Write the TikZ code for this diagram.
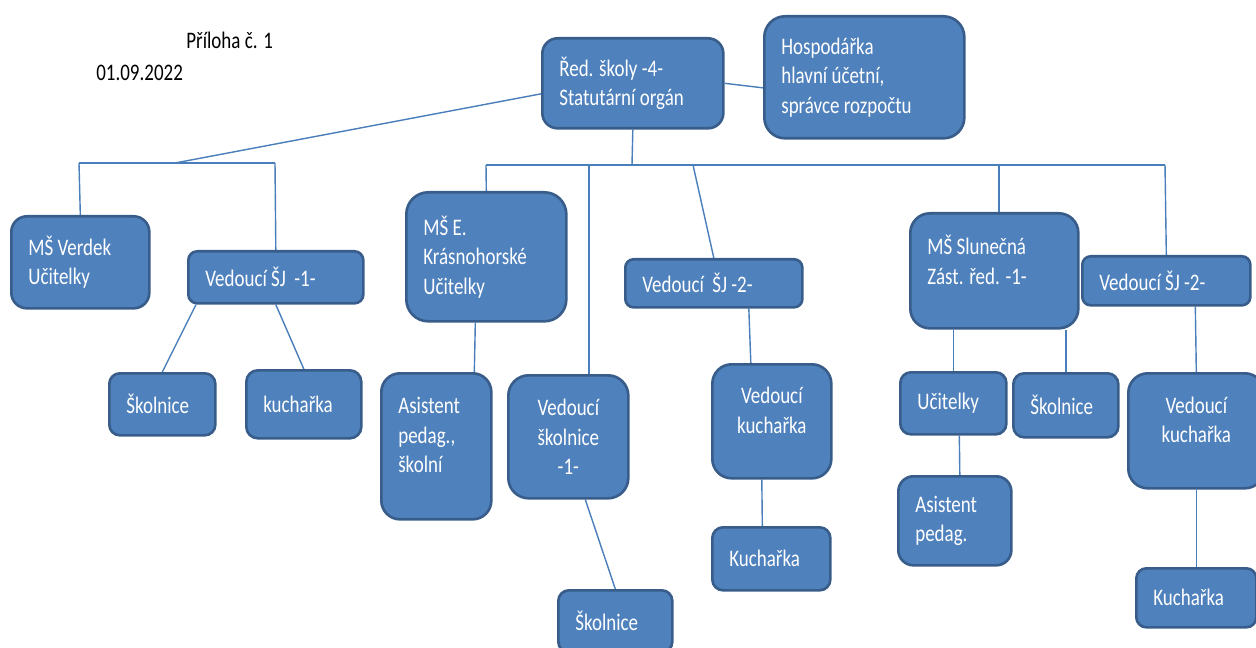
\documentclass[tikz,border=0pt]{standalone}
\usepackage{fontspec}
\setmainfont[FakeStretch=0.8]{Carlito}
\usetikzlibrary{calc,backgrounds}
\definecolor{boxfill}{HTML}{4F81BD}
\definecolor{boxline}{HTML}{385D8A}
\definecolor{wire}{HTML}{4A7EBB}
\tikzset{
  box/.style 2 args={draw=boxline, fill=boxfill, line width=1.5pt, text=white,
    anchor=north west, align=flush left, inner xsep=0.34cm, inner ysep=0pt,
    minimum width=#1*0.02cm, minimum height=#2*0.02cm, text width=(#1-34)*0.02cm,
    rounded corners={min(#1,#2)*0.17*0.02cm},
    execute at begin node={\spaceskip=0pt\xspaceskip=0pt},
    font=\fontsize{13.5}{16.8}\selectfont},
  mid/.style={align=flush center},
  note/.style={anchor=base west, inner sep=0pt, font=\fontsize{13.5}{16.8}\selectfont},
  link/.style={draw=wire, line width=0.8pt}
}
\begin{document}
\begin{tikzpicture}[x=0.02cm, y=-0.02cm]
\useasboundingbox (0,0) rectangle (1256,648);

\node[note] (annex) at (186,49) {Příloha č. 1};
\node[note] (date) at (96,81) {01.09.2022};

\node[box={181}{90}] (root) at (541,37) {Řed. školy -4-\\Statutární orgán};
\node[box={200}{122}] (hosp) at (763,15) {Hospodářka\\hlavní účetní,\\správce rozpočtu};

\node[box={138}{92}] (verdek) at (10,215) {MŠ Verdek\\Učitelky};
\node[box={175}{52}] (ved1) at (187,250) {Vedoucí ŠJ~ -1-};
\node[box={106}{62}] (skol1) at (108,372) {Školnice};
\node[box={115}{68}] (kuch1) at (245,369) {kuchařka};

\node[box={160}{129}] (krasno) at (405,191) {MŠ E.\\Krásnohorské\\Učitelky};
\node[box={110}{146}] (asist1) at (380,372) {Asistent\\pedag.,\\školní\\[-4pt]\mbox{}};
\node[box={120}{123}, mid] (vedsk) at (507,374) {Vedoucí\\školnice\\-1-};
\node[box={114}{62}] (skol2) at (557,589) {Školnice};

\node[box={177}{48}] (vsj2) at (624,258) {Vedoucí~ ŠJ -2-};
\node[box={119}{114}, mid] (vkuch) at (711,363) {Vedoucí\\kuchařka\\[-4pt]\mbox{}};
\node[box={118}{63}] (kuch2) at (711,526) {Kuchařka};

\node[box={168}{115}] (slun) at (909,212) {MŠ Slunečná\\Zást. řed. -1-\\[-4pt]\mbox{}};
\node[box={106}{62}] (ucit) at (899,371) {Učitelky};
\node[box={105}{64}] (skol3) at (1012,372) {Školnice};
\node[box={113}{89}] (asist2) at (897,475) {Asistent\\pedag.};

\node[box={168}{49}] (vsj2r) at (1081,255) {Vedoucí ŠJ -2-};
\node[box={136}{115}, mid] (vkuchr) at (1127,372) {Vedoucí\\kuchařka\\[-4pt]\mbox{}};
\node[box={120}{59}] (kuchr) at (1135,567) {Kuchařka};

\coordinate (lbar) at (175,163);
\coordinate (lbarw) at (79,163);
\coordinate (lbare) at (275,163);
\coordinate (mbar) at (632,165);
\coordinate (mbarw) at (486,165);
\coordinate (mbare) at (1165,165);
\coordinate (tap1) at (589,165);
\coordinate (tap2) at (693,165);
\coordinate (tap3) at (999,165);

\begin{scope}[on background layer]
\begin{scope}[link]
\draw ([yshift=-6pt]root.west) -- (lbar);
\draw (lbarw) -- (lbare);
\draw (lbarw) -- (verdek.north);
\draw (lbare) -- (ved1.north);
\draw (root.east) -- ([yshift=-6pt]hosp.west);
\draw (root.south) -- (mbar);
\draw (mbarw) -- (mbare);
\draw (mbarw) -- (krasno.north);
\draw (tap1) -- (vedsk.north -| tap1);
\draw (tap2) -- (vsj2.north);
\draw (tap3) -- (slun.north -| tap3);
\draw (mbare) -- (vsj2r.north);
\draw ($(ved1.south west)+(9,0)$) -- (skol1.north);
\draw (ved1.south) -- (kuch1.north);
\draw ($(krasno.south)+(-11,0)$) -- ($(asist1.north)+(38,0)$);
\draw ($(vedsk.south)+(17,0)$) -- (skol2.north);
\draw ($(vsj2.south)+(35,0)$) -- ($(vkuch.north)+(-21,0)$);
\draw ($(vkuch.south)+(-10,0)$) -- ($(kuch2.north)+(-9,0)$);
\draw (slun.south -| ucit.north) -- (ucit.north);
\draw (slun.south -| skol3.north) -- (skol3.north);
\draw ($(ucit.south)+(6,0)$) -- ($(asist2.north)+(5,0)$);
\draw ($(vsj2r.south)+(29,0)$) -- (vkuchr.north);
\draw (vkuchr.south) -- (kuchr.north);
\end{scope}
\end{scope}
\end{tikzpicture}
\end{document}
